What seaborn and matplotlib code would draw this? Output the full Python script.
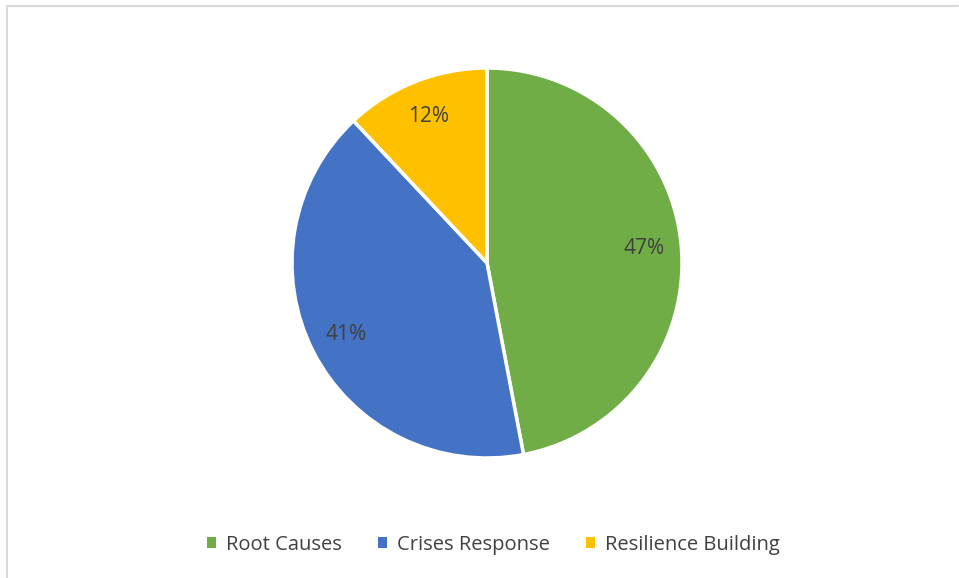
import matplotlib
matplotlib.use("Agg")
import matplotlib.pyplot as plt
import seaborn as sns
from matplotlib.patches import Patch
from matplotlib.lines import Line2D

categories = ["Root Causes", "Crises Response", "Resilience Building"]
values = [47, 41, 12]
colors = ["#70AD47", "#4472C4", "#FFC000"]

sns.set_theme(style="white")
plt.rcParams['font.family'] = ['Open Sans', 'DejaVu Sans']

W, H = 959, 578
fig = plt.figure(figsize=(W / 100, H / 100), dpi=100)
cx, cy, r = 487, 263, 195
ax = fig.add_axes([(cx - r) / W, 1 - (cy + r) / H, 2 * r / W, 2 * r / H])

wedges, texts, autotexts = ax.pie(
    values, colors=colors, startangle=90, counterclock=False,
    autopct=lambda p: f"{p:.0f}%", pctdistance=0.81,
    wedgeprops=dict(edgecolor="white", linewidth=2.5),
    textprops=dict(color="#404040", fontsize=15),
)
ax.set_xlim(-1, 1)
ax.set_ylim(-1, 1)
ax.axis("off")

handles = [Patch(facecolor=c, edgecolor="none") for c in colors]
fig.legend(handles, categories, loc="center", bbox_to_anchor=(0.5 + 14 / W, 1 - 545 / H),
           ncol=3, frameon=False, fontsize=14.5, handlelength=0.45, handleheight=0.45,
           handletextpad=0.5, columnspacing=1.8, labelcolor="#404040")

# partial chart-area border (top and left visible)
fig.add_artist(Line2D([6.5 / W, 958 / W], [1 - 5.5 / H, 1 - 5.5 / H],
                      transform=fig.transFigure, color="#D9D9D9", linewidth=1.5))
fig.add_artist(Line2D([6.5 / W, 6.5 / W], [1 - 5.5 / H, 0],
                      transform=fig.transFigure, color="#D9D9D9", linewidth=1.5))

fig.savefig("out.png", dpi=100, facecolor="white")
